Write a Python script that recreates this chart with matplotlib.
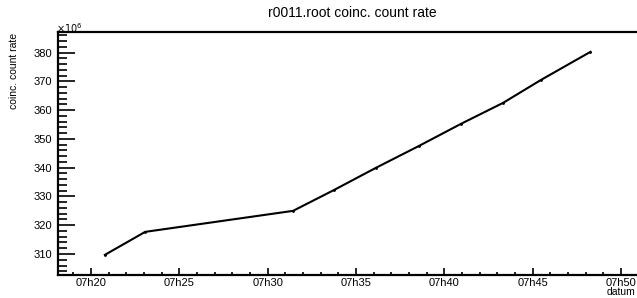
import matplotlib
matplotlib.use("Agg")
import matplotlib.pyplot as plt
import matplotlib.dates as mdates
import pandas as pd

# readings (time stamp, coincidence count rate in units of 1e6)
times = ["07:20:47", "07:23:04", "07:31:26", "07:33:46", "07:36:08",
         "07:38:34", "07:40:57", "07:43:20", "07:45:29", "07:48:16"]
rate_1e6 = [309.7, 317.7, 325.0, 332.3, 340.0, 347.6, 355.3, 362.6, 370.6, 380.3]

t = pd.to_datetime(["2000-01-01 " + s for s in times])

plt.rcParams['font.family'] = ['Liberation Sans', 'DejaVu Sans']

fig = plt.figure(figsize=(6.37, 2.98), dpi=100)
ax = fig.add_axes([0.0911, 0.0772, 0.9089, 0.8154])

ax.plot(t, rate_1e6, color="black", lw=1.5, marker="o", ms=1.0)

t0 = pd.Timestamp("2000-01-01 07:18:08")
t1 = pd.Timestamp("2000-01-01 07:50:54")
ax.set_xlim(t0, t1)
ax.set_ylim(302.7, 387.2)

ax.xaxis.set_major_locator(mdates.MinuteLocator(byminute=range(0, 60, 5)))
ax.xaxis.set_minor_locator(mdates.MinuteLocator())
ax.xaxis.set_major_formatter(mdates.DateFormatter("%Hh%M"))
ax.yaxis.set_major_locator(plt.MultipleLocator(10))
ax.yaxis.set_minor_locator(plt.MultipleLocator(2))

ax.tick_params(axis="x", which="major", direction="in", length=5, width=1.2, labelsize=8, pad=2)
ax.tick_params(axis="x", which="minor", direction="in", length=2.5, width=1.2)
ax.tick_params(axis="y", which="major", direction="in", length=12.5, width=1.2, labelsize=8, pad=4)
ax.tick_params(axis="y", which="minor", direction="in", length=6.5, width=1.2)

ax.spines["right"].set_visible(False)
for s in ["left", "top", "bottom"]:
    ax.spines[s].set_linewidth(1.6)

fig.text(0.553, 0.958, "r0011.root coinc. count rate", ha="center", va="center", fontsize=10)
fig.text(0.022, 0.889, "coinc. count rate", rotation=90, ha="center", va="top", fontsize=7.5)
fig.text(0.088, 0.905, r"$\times10^{6}$", ha="left", va="center", fontsize=7)
fig.text(0.998, 0.02, "datum", ha="right", va="center", fontsize=7.5)

fig.savefig("out.png", dpi=100)
